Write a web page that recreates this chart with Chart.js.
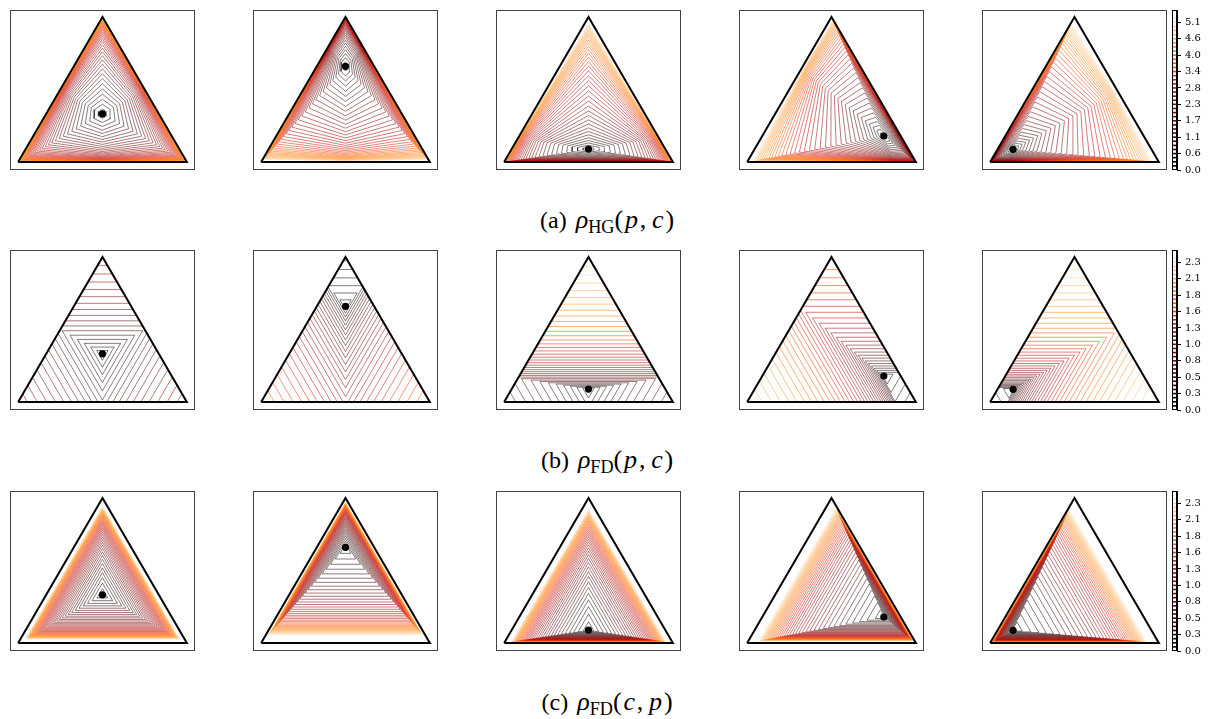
<!DOCTYPE html>
<html>
<head>
<meta charset="utf-8">
<script src="https://cdn.jsdelivr.net/npm/chart.js@4.4.1/dist/chart.umd.min.js"></script>
<style>
  html, body { margin: 0; padding: 0; background: #fff; }
  body { width: 1216px; height: 719px; position: relative; overflow: hidden; }
  canvas { position: absolute; display: block; }
  .caption { position: absolute; left: 0; width: 1216px; text-align: center;
             font-family: "Liberation Serif", "Times New Roman", serif; font-size: 24px;
             line-height: 28px; color: #000; white-space: nowrap; }
  .caption .math { font-size: 26px; margin-left: 3px; }
  .caption .rho { font-style: italic; }
  .caption sub { font-size: 0.7em; vertical-align: -0.3em; line-height: 0; font-style: normal; }
  .caption .args { letter-spacing: 0.07em; }
  .caption i { font-style: italic; }
</style>
</head>
<body>
<script>
// Reference points c (barycentric: [left, right, top]), one per column
const centers = [
  [0.334, 0.333, 0.333],
  [0.17, 0.17, 0.66],
  [0.455, 0.455, 0.09],
  [0.10, 0.72, 0.18],
  [0.82, 0.092, 0.088]
];

// Contour levels (shared across each row's five panels)
const levelsHG = [0, 0.142, 0.284, 0.427, 0.569, 0.711, 0.853, 0.996, 1.138, 1.280,
  1.422, 1.564, 1.707, 1.849, 1.991, 2.133, 2.276, 2.418, 2.560, 2.702,
  2.844, 2.987, 3.129, 3.271, 3.413, 3.556, 3.698, 3.840, 3.982, 4.124,
  4.267, 4.409, 4.551, 4.693, 4.835, 4.978, 5.120, 5.262, 5.404, 5.547];
const levelsFD = [0, 0.065, 0.130, 0.195, 0.260, 0.325, 0.390, 0.455, 0.520, 0.585,
  0.650, 0.715, 0.780, 0.845, 0.910, 0.975, 1.040, 1.105, 1.170, 1.235,
  1.300, 1.365, 1.430, 1.495, 1.560, 1.625, 1.690, 1.755, 1.820, 1.885,
  1.950, 2.015, 2.080, 2.145, 2.210, 2.275, 2.340, 2.405, 2.470, 2.535];

// Colorbar tick labels (one every fourth level)
const ticksHG = ['0.0', '0.6', '1.1', '1.7', '2.3', '2.8', '3.4', '4.0', '4.6', '5.1'];
const ticksFD = ['0.0', '0.3', '0.5', '0.8', '1.0', '1.3', '1.6', '1.8', '2.1', '2.3'];

const captionsHTML = [
  '(a) <span class="math"><span class="rho">ρ</span><sub>HG</sub><span class="args">(<i>p</i>,&#8202;<i>c</i>)</span></span>',
  '(b) <span class="math"><span class="rho">ρ</span><sub>FD</sub><span class="args">(<i>p</i>,&#8202;<i>c</i>)</span></span>',
  '(c) <span class="math"><span class="rho">ρ</span><sub>FD</sub><span class="args">(<i>c</i>,&#8202;<i>p</i>)</span></span>'
];

// ---------- geometry on the probability simplex ----------
const H = Math.sqrt(3) / 2;
function toXY(p) { return { x: p[1] + 0.5 * p[2], y: p[2] * H }; }

// Hilbert ball boundary: hexagon through c with one coordinate scaled by e^{±r}
function hilbertContour(c, r) {
  const e = Math.exp(r);
  const seq = [[1, 0], [-1, 2], [1, 1], [-1, 0], [1, 2], [-1, 1]];
  const pts = seq.map(([s, i]) => {
    const q = c.map((v, k) => (k === i ? v * (s > 0 ? e : 1 / e) : v));
    const sum = q[0] + q[1] + q[2];
    return toXY(q.map(v => v / sum));
  });
  pts.push(pts[0]);
  return [pts];
}

// Funk level set {max_i p_i/c_i = e^r}: pieces of the lines p_i = c_i e^r
function funkPCContour(c, r) {
  const e = Math.exp(r);
  const segs = [];
  for (let i = 0; i < 3; i++) {
    const v = c[i] * e;
    if (v >= 1) continue;
    const j = (i + 1) % 3, k = (i + 2) % 3;
    const lo = Math.max(0, 1 - v - c[k] * e);
    const hi = Math.min(c[j] * e, 1 - v);
    if (hi - lo <= 1e-9) continue;
    const a = [0, 0, 0], b = [0, 0, 0];
    a[i] = v; a[j] = lo; a[k] = 1 - v - lo;
    b[i] = v; b[j] = hi; b[k] = 1 - v - hi;
    segs.push([toXY(a), toXY(b)]);
  }
  return segs;
}

// Reverse Funk level set {max_i c_i/p_i = e^r}: triangle p_i >= c_i e^{-r}
function funkCPContour(c, r) {
  const m = Math.exp(-r);
  const pts = [0, 1, 2].map(i => {
    const p = c.map(v => v * m);
    p[i] = 1 - m * (1 - c[i]);
    return toXY(p);
  });
  pts.push(pts[0]);
  return [pts];
}

// gist_heat colour map
function heat(t, alpha) {
  const cl = v => Math.max(0, Math.min(1, v));
  const r = Math.round(255 * cl(1.5 * t));
  const g = Math.round(255 * cl(2 * t - 1));
  const b = Math.round(255 * cl(4 * t - 3));
  return `rgba(${r},${g},${b},${alpha})`;
}

// frame around the plotting area
const framePlugin = {
  id: 'frame',
  afterDatasetsDraw(chart, args, opts) {
    const a = chart.chartArea, ctx = chart.ctx;
    ctx.save();
    ctx.strokeStyle = opts.color || '#000';
    ctx.lineWidth = opts.width || 1;
    ctx.strokeRect(Math.round(a.left) + 0.5, Math.round(a.top) + 0.5,
                   Math.round(a.right - a.left) - 1, Math.round(a.bottom - a.top) - 1);
    ctx.restore();
  }
};

// ---------- layout ----------
const panelLeft = [6, 249, 492, 735, 978];
const rowTop = [6, 246, 487];
const PW = 193, PHt = 168, UNIT = 176;   // panel size and pixels per simplex unit
const captionTop = [206, 446, 688];

const rows = [
  { levels: levelsHG, ticks: ticksHG, contour: hilbertContour },
  { levels: levelsFD, ticks: ticksFD, contour: funkPCContour },
  { levels: levelsFD, ticks: ticksFD, contour: funkCPContour }
];

function makeCanvas(left, top, w, h) {
  const cv = document.createElement('canvas');
  cv.width = w; cv.height = h;
  cv.style.left = left + 'px'; cv.style.top = top + 'px';
  cv.style.width = w + 'px'; cv.style.height = h + 'px';
  document.body.appendChild(cv);
  return cv;
}

const xSpan = PW / UNIT, ySpan = PHt / UNIT;
const xMin = -(xSpan - 1) / 2;
const yMin = -0.047;

rows.forEach((row, ri) => {
  const nL = row.levels.length;
  centers.forEach((c, ci) => {
    const datasets = [];
    // reference point
    datasets.push({ data: [toXY(c)], showLine: false, pointRadius: 3.6,
      pointBackgroundColor: '#000', pointBorderWidth: 0, order: 0 });
    // simplex outline
    datasets.push({ data: [toXY([1, 0, 0]), toXY([0, 1, 0]), toXY([0, 0, 1]), toXY([1, 0, 0])],
      showLine: true, borderColor: '#000', borderWidth: 2, pointRadius: 0,
      borderJoinStyle: 'miter', order: 1 });
    // contour lines
    row.levels.forEach((lv, li) => {
      if (lv <= 0) return;
      const col = heat(li / (nL - 1), 0.75);
      row.contour(c, lv).forEach(seg => {
        datasets.push({ data: seg, showLine: true, borderColor: col, borderWidth: 0.7,
          pointRadius: 0, order: 2 });
      });
    });
    const cv = makeCanvas(panelLeft[ci], rowTop[ri], PW, PHt);
    new Chart(cv, {
      type: 'scatter',
      data: { datasets },
      options: {
        responsive: false, animation: false, devicePixelRatio: 1,
        layout: { padding: 0 },
        plugins: { legend: { display: false }, tooltip: { enabled: false },
                   frame: { color: '#444', width: 1 } },
        elements: { line: { tension: 0, fill: false } },
        scales: {
          x: { type: 'linear', display: false, min: xMin, max: xMin + xSpan },
          y: { type: 'linear', display: false, min: yMin, max: yMin + ySpan }
        }
      },
      plugins: [framePlugin]
    });
  });

  // colour bar
  const cbW = 56, cbH = 180;
  const cbc = makeCanvas(1160, rowTop[ri] - 6, cbW, cbH);
  const rungs = row.levels.map((lv, li) => ({
    data: [{ x: 0, y: lv }, { x: 1, y: lv }], showLine: true,
    borderColor: heat(li / (nL - 1), 1), borderWidth: 1.6, pointRadius: 0
  }));
  const tickVals = row.ticks.map((_, k) => row.levels[k * 4]);
  new Chart(cbc, {
    type: 'scatter',
    data: { datasets: rungs },
    options: {
      responsive: false, animation: false, devicePixelRatio: 1,
      layout: { padding: { left: 12, right: 0, top: 7, bottom: 7 } },
      plugins: { legend: { display: false }, tooltip: { enabled: false },
                 frame: { color: '#000', width: 1 } },
      scales: {
        x: { type: 'linear', display: false, min: 0, max: 1 },
        y: {
          type: 'linear', position: 'right', min: 0, max: row.levels[nL - 1],
          afterFit: s => { s.width = cbW - 12 - 5; },
          afterBuildTicks: s => { s.ticks = tickVals.map(v => ({ value: v })); },
          grid: { drawOnChartArea: false, drawTicks: true, tickLength: 4, color: '#000', lineWidth: 1 },
          border: { display: true, color: '#000' },
          ticks: {
            autoSkip: false, padding: 4, color: '#000',
            font: { family: 'DejaVu Serif', size: 10 },
            callback: (v, i) => row.ticks[i]
          }
        }
      }
    },
    plugins: [framePlugin]
  });

  const cap = document.createElement('div');
  cap.className = 'caption';
  cap.style.top = captionTop[ri] + 'px';
  cap.innerHTML = captionsHTML[ri];
  document.body.appendChild(cap);
});
</script>
</body>
</html>
